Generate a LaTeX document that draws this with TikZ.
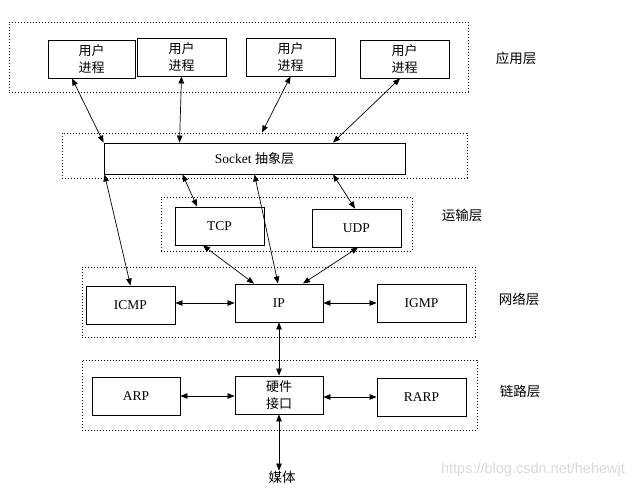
\documentclass[tikz,border=0pt]{standalone}
\usepackage{fontspec}
\setmainfont{Liberation Serif}
\newfontfamily\cjk{Noto Sans CJK SC}
\newfontfamily\wmfont{Liberation Sans}
\usetikzlibrary{arrows.meta}
\begin{document}
\begin{tikzpicture}[x=1pt,y=-1pt,
  box/.style={draw, line width=0.9pt, rectangle, inner sep=0pt,
    minimum width=89pt, minimum height=38pt, align=center,
    font=\fontsize{13.5}{17}\selectfont},
  cbox/.style={box, font=\cjk\fontsize{13}{17}\selectfont},
  layer/.style={draw, line width=0.9pt, dash pattern=on 1pt off 2pt,
    rectangle, inner sep=0pt},
  lbl/.style={font=\cjk\fontsize{13.5}{15}\selectfont, inner sep=0pt},
  conn/.style={draw, line width=0.7pt,
    {Triangle[length=7pt,width=5.5pt]}-{Triangle[length=7pt,width=5.5pt]}}]
\fill[white] (0,0) rectangle (641,489);
\useasboundingbox (0,0) rectangle (641,489);
% layer frames
\node[layer, minimum width=459pt, minimum height=70pt] (appL) at (238.5,57) {};
\node[layer, minimum width=405pt, minimum height=45pt] (sockL) at (264.5,155.5) {};
\node[layer, minimum width=251pt, minimum height=54pt] (transL) at (286.5,224) {};
\node[layer, minimum width=393pt, minimum height=70pt] (netL) at (278.5,302.5) {};
\node[layer, minimum width=395pt, minimum height=70pt] (linkL) at (279.5,395) {};
% layer labels
\node[lbl] (tApp) at (516,58) {应用层};
\node[lbl] (tTrans) at (462,215) {运输层};
\node[lbl] (tNet) at (519,299) {网络层};
\node[lbl] (tLink) at (520,391) {链路层};
% application processes
\node[cbox, minimum width=87pt] (u1) at (91.5,59) {用户\\进程};
\node[cbox] (u2) at (181.5,57) {用户\\进程};
\node[cbox] (u3) at (290.5,57) {用户\\进程};
\node[cbox] (u4) at (404.5,59) {用户\\进程};
% socket
\node[box, minimum width=301pt, minimum height=31pt] (sock) at (254.5,158.5) {Socket {\cjk\fontsize{13}{17}\selectfont 抽象层}};
% transport
\node[box] (tcp) at (219.5,226) {TCP};
\node[box] (udp) at (356.5,228) {UDP};
% network
\node[box] (icmp) at (130.5,305) {ICMP};
\node[box, minimum width=88pt] (ip) at (279,303) {IP};
\node[box] (igmp) at (421.5,303) {IGMP};
% link
\node[box, minimum width=88pt] (arp) at (136,396) {ARP};
\node[cbox, minimum width=88pt] (hw) at (279,395) {硬件\\接口};
\node[box] (rarp) at (421.5,397) {RARP};
\node[lbl] (media) at (282,477) {媒体};
% watermark
\node[font=\wmfont\fontsize{14.5}{16}\selectfont, text=black!15, inner sep=0pt] (wm) at (533,470) {https://blog.csdn.net/hehewjt};
% connectors
\draw[conn] ([xshift=-19.5pt]u1.south) -- (sock.north west);
\draw[conn] (u2.south) -- ([xshift=76pt]sock.north west);
\draw[conn] (u3.south) -- ([xshift=7.5pt,yshift=10pt]sock.north);
\draw[conn] ([xshift=-4.5pt]u4.south) -- ([xshift=78.5pt]sock.north);
\draw[conn] ([xshift=1pt]sock.south west) -- (icmp.north);
\draw[conn] ([xshift=79pt]sock.south west) -- ([xshift=-22.5pt]tcp.north);
\draw[conn] (sock.south) -- ([xshift=-1pt]ip.north);
\draw[conn] ([xshift=78.5pt]sock.south) -- ([xshift=-1.5pt]udp.north);
\draw[conn] ([xshift=-16.5pt]tcp.south) -- ([xshift=-25pt]ip.north);
\draw[conn] ([xshift=1.5pt]udp.south) -- ([xshift=24pt]ip.north);
\draw[conn] (icmp.east |- ip.west) -- (ip.west);
\draw[conn] (ip.east) -- (igmp.west);
\draw[conn] (ip.south) -- (hw.north);
\draw[conn] (arp.east) -- (arp.east -| hw.west);
\draw[conn] (rarp.west -| hw.east) -- (rarp.west);
\draw[conn] (hw.south) -- (hw.south |- media.north);
\end{tikzpicture}
\end{document}
